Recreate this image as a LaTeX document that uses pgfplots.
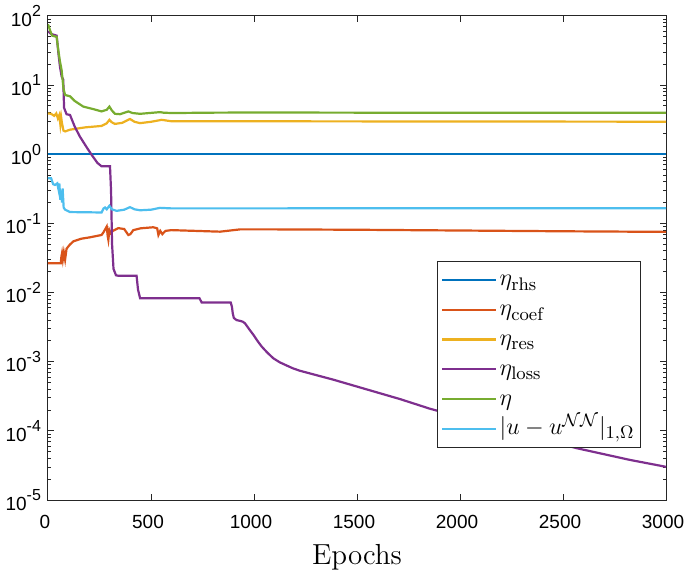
\documentclass[border=0pt]{standalone}
\usepackage{fontspec}
\usepackage{pgfplots}
\pgfplotsset{compat=1.18}
\newfontfamily\arial{Liberation Sans}
\definecolor{mblue}{rgb}{0,0.447,0.741}
\definecolor{morange}{rgb}{0.85,0.325,0.098}
\definecolor{myellow}{rgb}{0.929,0.694,0.125}
\definecolor{mpurple}{rgb}{0.494,0.184,0.556}
\definecolor{mgreen}{rgb}{0.466,0.674,0.188}
\definecolor{mcyan}{rgb}{0.301,0.745,0.933}
\definecolor{axgray}{rgb}{0.15,0.15,0.15}
\newcommand{\pw}[1]{10\raisebox{0.5em}{\fontsize{8}{9}\selectfont #1}}

\begin{document}
\begin{tikzpicture}
\useasboundingbox (-24pt,-38.5pt) rectangle (318pt,250pt);
\begin{axis}[
    at={(0,0)}, anchor=south west,
    scale only axis, width=309pt, height=242pt,
    ymode=log,
    xmin=0, xmax=3000, ymin=1e-5, ymax=1e2,
    xtick={0,500,1000,1500,2000,2500,3000},
    xticklabels={0,500,1000,1500,2000,2500,3000},
    ytick={1e-5,1e-4,1e-3,1e-2,1e-1,1,10,100},
    yticklabels={\pw{-5},\pw{-4},\pw{-3},\pw{-2},\pw{-1},\pw{0},\pw{1},\pw{2}},
    tick label style={font=\arial\fontsize{9.5}{11}\selectfont},
    xticklabel style={yshift=-4pt, xshift=-1.5pt},
    tick align=inside, tick pos=both,
    major tick length=2.8pt, minor tick length=1.6pt,
    axis line style={draw=axgray, line width=0.5pt},
    every tick/.style={draw=axgray, line width=0.5pt},
    xlabel={Epochs},
    xlabel style={font=\fontsize{14.5}{17}\selectfont, at={(axis description cs:0.5,0)}, anchor=center, yshift=-28.5pt},
    every axis plot/.style={line width=1.1pt},
    legend cell align=left,
    legend style={at={(rel axis cs:0.96,0.107)}, anchor=south east,
        draw=axgray, fill=white, font=\fontsize{13}{15}\selectfont,
        inner sep=2pt, row sep=0pt,
        nodes={inner sep=1.2pt, text height=9.2pt, text depth=3.3pt}},
    legend image code/.code={\draw[#1] (0pt,0pt) -- (27pt,0pt);},
]
\addplot[mblue] coordinates {(0,1) (3000,1)};
\addlegendentry{$\eta_{\mathrm{rhs}}$}

\addplot[morange] coordinates {
(0,0.0266)(62,0.0266)(65,0.033)(68,0.037)(72,0.030)(77,0.038)(83,0.030)(90,0.043)
(105,0.049)(123,0.055)(160,0.060)(204,0.063)(260,0.068)(270,0.075)(285,0.090)(290,0.065)
(293,0.058)(298,0.080)(305,0.072)(315,0.078)(341,0.0855)(370,0.083)(390,0.068)(400,0.070)
(414,0.080)(450,0.085)(511,0.088)(530,0.085)(536,0.068)(545,0.078)(555,0.070)(570,0.078)
(600,0.080)(835,0.076)(932,0.082)(1100,0.082)(1500,0.081)(2000,0.079)(2500,0.077)(3000,0.0755)};
\addlegendentry{$\eta_{\mathrm{coef}}$}

\addplot[myellow] coordinates {
(0,3.9)(15,3.85)(30,3.6)(40,3.9)(48,3.3)(55,3.7)(60,2.7)(64,3.4)(68,2.8)(75,2.2)
(83,2.14)(107,2.27)(180,2.45)(260,2.57)(285,2.8)(298,3.15)(310,2.9)(325,2.75)(360,2.85)
(398,3.24)(420,2.95)(447,2.82)(500,2.95)(552,3.15)(600,3.0)(689,3.0)(1000,3.0)(3000,2.96)};
\addlegendentry{$\eta_{\mathrm{res}}$}

\addplot[mpurple] coordinates {
(0,60)(15,55)(42,52)(50,30)(58,18.6)(66,13.4)(74,12)(78,4.7)(90,3.8)(107,3.7)(130,2.5)
(155,1.8)(185,1.3)(212,0.98)(240,0.75)(260,0.67)(301,0.67)(306,0.3)(311,0.05)(318,0.022)
(330,0.0178)(341,0.0175)(430,0.0175)(437,0.011)(447,0.0083)(735,0.0083)(746,0.0072)
(887,0.0072)(893,0.0062)(897,0.005)(902,0.0043)(915,0.0040)(932,0.0039)(945,0.0038)
(956,0.0036)(975,0.003)(997,0.00245)(1017,0.002)(1037,0.00166)(1065,0.00135)(1094,0.00112)
(1125,0.00098)(1159,0.00088)(1190,0.0008)(1223,0.00074)(1385,0.00055)(1547,0.000398)
(1709,0.000288)(1854,0.000209)(2200,0.00011)(2566,0.0000562)(2825,0.000038)(3000,0.0000302)};
\addlegendentry{$\eta_{\mathrm{loss}}$}

\addplot[mgreen] coordinates {
(0,76)(10,62)(20,52)(42,50)(50,32)(58,22)(66,16.6)(75,9)(83,7.2)(107,6.9)(130,5.9)
(171,4.9)(220,4.5)(260,4.17)(285,4.4)(298,4.9)(310,4.3)(325,3.85)(350,3.8)(390,4.17)
(410,3.95)(447,3.85)(544,4.07)(560,4.0)(600,3.95)(800,4.0)(1000,4.02)(1500,4.0)(3000,4.0)};
\addlegendentry{$\eta$}

\addplot[mcyan] coordinates {
(0,0.45)(15,0.45)(25,0.37)(34,0.36)(45,0.38)(52,0.30)(55,0.38)(60,0.22)(64,0.30)(68,0.20)
(71,0.32)(76,0.17)(83,0.158)(107,0.146)(260,0.144)(270,0.165)(277,0.17)(285,0.16)(298,0.18)
(310,0.16)(333,0.152)(370,0.158)(398,0.172)(420,0.16)(447,0.155)(500,0.158)(544,0.168)
(600,0.165)(3000,0.166)};
\addlegendentry{$|u-u^{\mathcal{NN}}|_{1,\Omega}$}
\end{axis}
\end{tikzpicture}
\end{document}
